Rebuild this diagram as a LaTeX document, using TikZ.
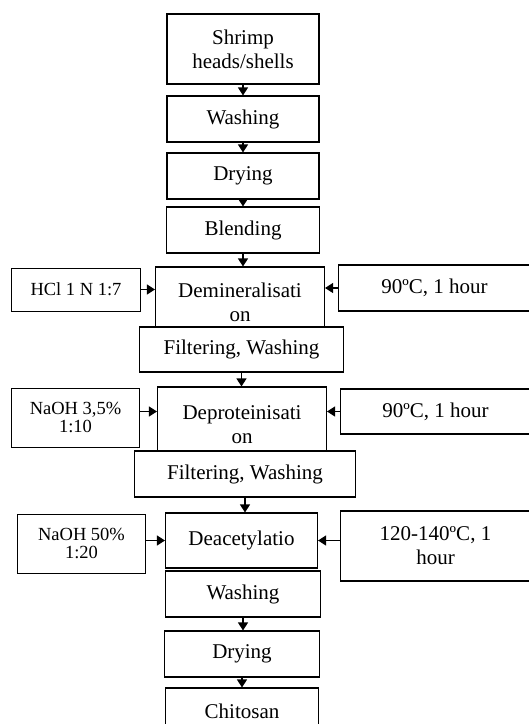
\documentclass[tikz,border=0pt]{standalone}
\usepackage{fontspec}
\setmainfont{Liberation Serif}
\usepackage{tikz}
\usetikzlibrary{arrows.meta,shapes}
\usetikzlibrary{positioning}
\tikzstyle{block} = [rectangle, draw, fill=white, line width=1.1pt,
    align=center, font=\fontsize{21}{24}\selectfont,
    minimum width=152pt, minimum height=46pt, inner sep=2pt]
\tikzstyle{reagent} = [rectangle, draw, fill=white, line width=1pt,
    align=center, font=\fontsize{18.5}{18}\selectfont,
    minimum width=128pt, minimum height=59pt, inner sep=2pt]
\tikzstyle{cond} = [rectangle, draw, fill=white, line width=1.1pt,
    align=center, font=\fontsize{21}{24}\selectfont,
    minimum width=190pt, minimum height=46pt, inner sep=2pt]
\tikzstyle{line} = [draw, line width=1.1pt, -{Triangle[width=10pt,length=8pt]}]

\begin{document}
\begin{tikzpicture}
  \useasboundingbox (0,0) rectangle (529pt,-724pt);
  \clip (0,0) rectangle (529pt,-724pt);
  % Place nodes
  \node [block, minimum height=70pt] (shrimp) at (243pt,-49pt)
  {Shrimp\\heads/shells};
  \node [block, below of=shrimp, node distance=70pt] (wash1) {Washing};
  \node [block, below of=wash1, node distance=57pt] (dry1) {Drying};
  \node [block, below of=dry1, node distance=54pt, minimum width=153pt] (blend)
  {Blending};
  \node [block, below of=blend, node distance=72pt, xshift=-3pt,
  minimum width=169pt, minimum height=70pt] (demin) {Demineralisati\\on};
  \node [block, below of=demin, node distance=47.5pt, xshift=1.5pt,
  minimum width=204pt, minimum height=45pt] (filt1) {Filtering, Washing};
  \node [block, below of=filt1, node distance=75pt, xshift=0.5pt,
  minimum width=169pt, minimum height=75pt] (deprot) {Deproteinisati\\on};
  \node [block, below of=deprot, node distance=49.5pt, xshift=3pt,
  minimum width=221pt] (filt2) {Filtering, Washing};
  \node [block, below of=filt2, node distance=66.5pt, xshift=-3.5pt,
  minimum height=55pt] (deacet) {Deacetylatio};
  \node [block, below of=deacet, node distance=53.5pt, xshift=1.5pt,
  minimum width=155pt] (wash2) {Washing};
  \node [block, below of=wash2, node distance=60pt, xshift=-1pt,
  minimum width=155pt] (dry2) {Drying};
  \node [block, below of=dry2, node distance=57pt, minimum width=153pt] (chitosan)
  {Chitosan};
  % reagents and conditions
  \node [reagent, left of=demin, node distance=164pt, yshift=12.5pt,
  minimum width=129pt, minimum height=43pt] (hcl) {HCl 1 N 1:7};
  \node [reagent, left of=deprot, node distance=166.5pt, yshift=7pt] (naoh1)
  {NaOH 3,5\%\\1:10};
  \node [reagent, left of=deacet, node distance=160pt, yshift=-3pt] (naoh2)
  {NaOH 50\%\\1:20};
  \node [cond, right of=demin, node distance=194.5pt, yshift=14pt,
  minimum width=192pt] (cond1) {90ºC, 1 hour};
  \node [cond, right of=deprot, node distance=193.5pt, yshift=13pt,
  minimum height=45pt] (cond2) {90ºC, 1 hour};
  \node [cond, right of=deacet, node distance=194pt, yshift=-5.5pt,
  minimum height=70pt] (cond3) {120-140ºC, 1\\hour};
  % Draw edges
  \draw [line] (shrimp.south) -- (shrimp.south |- wash1.north);
  \draw [line] (wash1.south) -- (wash1.south |- dry1.north);
  \draw [line] (dry1.south) -- (dry1.south |- blend.north);
  \draw [line] (blend.south) -- (blend.south |- demin.north);
  \draw [line] (filt1.south) -- (filt1.south |- deprot.north);
  \draw [line] (filt2.south) -- (filt2.south |- deacet.north);
  \draw [line] (wash2.south) -- (wash2.south |- dry2.north);
  \draw [line] (dry2.south) -- (dry2.south |- chitosan.north);
  \draw [line] (hcl.east) -- (hcl.east -| demin.west);
  \draw [line] (cond1.west) -- (cond1.west -| demin.east);
  \draw [line] (naoh1.east |- cond2.west) -- (deprot.west |- cond2.west);
  \draw [line] (cond2.west) -- (cond2.west -| deprot.east);
  \draw [line] (naoh2.east |- deacet) -- (deacet.west);
  \draw [line] (cond3.west |- deacet) -- (deacet.east);
\end{tikzpicture}
\end{document}
